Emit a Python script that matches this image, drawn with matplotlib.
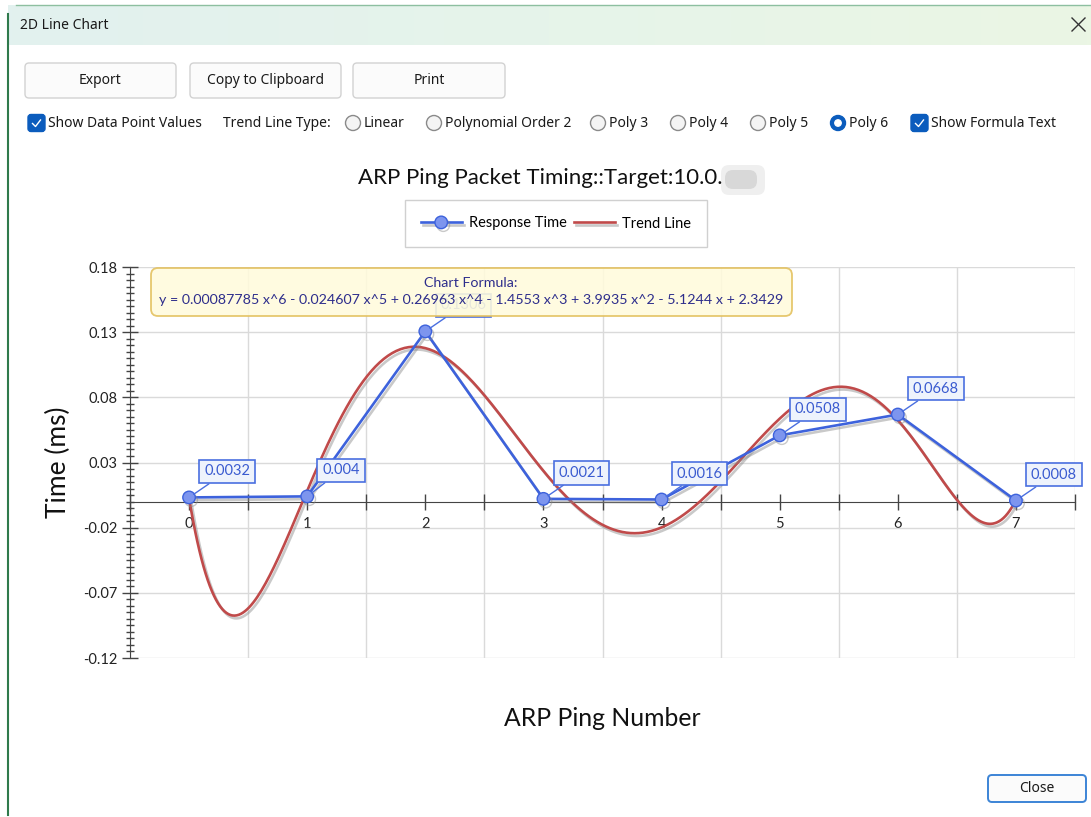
import numpy as np
import matplotlib
matplotlib.use("Agg")
import matplotlib.pyplot as plt
import matplotlib.patheffects as pe
from matplotlib.patches import FancyBboxPatch, Circle

# data
ping = [0, 1, 2, 3, 4, 5, 6, 7]
resp = [0.0032, 0.004, 0.1306, 0.0021, 0.0016, 0.0508, 0.0668, 0.0008]
y_ticks = [0.18, 0.13, 0.08, 0.03, -0.02, -0.07, -0.12]
formula = "y = 0.00087785 x^6 - 0.024607 x^5 + 0.26963 x^4 - 1.4553 x^3 + 3.9935 x^2 - 5.1244 x + 2.3429"
trend_order = 6

plt.rcParams['font.family'] = ['Lato', 'DejaVu Sans']
plt.rcParams['axes.unicode_minus'] = False

W, H = 1091, 817
fig = plt.figure(figsize=(W / 100, H / 100), dpi=100)
fig.patch.set_facecolor('white')

BLUE = '#3d62dc'
RED = '#c04a4a'
UI = 'Noto Sans'
UI_SIZE = 10

# main chart area (pixels: x 130..1075, y 267..658)
ax = fig.add_axes([130 / W, 1 - 658 / H, 945 / W, 391 / H])
ax.set_xlim(-0.5, 7.5)
ax.set_ylim(-0.12, 0.18)
for s in ['top', 'right']:
    ax.spines[s].set_visible(False)
ax.spines['bottom'].set_position(('data', 0))
ax.spines['bottom'].set_color('#444444')
ax.spines['left'].set_color('#444444')

ax.set_xticks(ping)
ax.set_xticks(np.arange(-0.5, 7.6, 0.5), minor=True)
ax.set_yticks(y_ticks)
ax.set_yticklabels(['{:.2f}'.format(v) for v in y_ticks])
ax.set_yticks(np.arange(-0.12, 0.1801, 0.005), minor=True)
ax.tick_params(axis='x', which='both', direction='inout', length=12, width=1,
               color='#444444', labelsize=10.5, pad=5, labelcolor='#222222')
ax.tick_params(axis='y', which='major', direction='inout', length=11.5, width=1,
               color='#444444', labelsize=10.5, pad=3, labelcolor='#222222')
ax.tick_params(axis='y', which='minor', direction='inout', length=6, width=1,
               color='#444444')
ax.grid(axis='y', which='major', color='#dadada', lw=1)
ax.grid(axis='x', which='minor', color='#dadada', lw=1)
ax.set_axisbelow(True)

# trend line (polynomial fit of the data, formula x = ping + 1)
coef = np.polyfit(np.array(ping) + 1, resp, trend_order)
xs = np.linspace(ping[0], ping[-1], 400)
shadow = [pe.SimpleLineShadow(offset=(1.5, -2), shadow_color='#888888', alpha=0.45), pe.Normal()]
ax.plot(xs, np.polyval(coef, xs + 1), color=RED, lw=1.9, label='Trend Line',
        path_effects=shadow, zorder=3)
ax.plot(ping, resp, color=BLUE, lw=1.9, marker='o', ms=9, mfc='#7d95ee', mec=BLUE,
        mew=1, label='Response Time', path_effects=shadow, zorder=4)

# data point values
for x, v in zip(ping, resp):
    ax.annotate(str(v), xy=(x, v), xytext=(15, 19), textcoords='offset pixels',
                ha='left', va='bottom', fontsize=10.5, color='#3a5bd0',
                bbox=dict(boxstyle='square,pad=0.33', fc='#eef3fc', ec='#4a6fe0', lw=1.2),
                arrowprops=dict(arrowstyle='-', color='#4a6fe0', lw=1, shrinkA=0, shrinkB=4),
                zorder=5)

ax.set_xlabel('ARP Ping Number', fontsize=17.8, color='#111111')
ax.xaxis.set_label_coords(0.5, -0.126)
ax.set_ylabel('Time (ms)', fontsize=19, color='#111111')
ax.yaxis.set_label_coords(-0.062, 0.5)

h, l = ax.get_legend_handles_labels()
leg = ax.legend(h[::-1], l[::-1], loc='center', ncol=2, fontsize=10.5,
                bbox_to_anchor=(556 / W, 1 - 223.5 / H), bbox_transform=fig.transFigure,
                handlelength=2.8, columnspacing=0.5, handletextpad=0.5, borderpad=1.1,
                fancybox=False, edgecolor='#d0d0d0', framealpha=1)
leg.get_frame().set_linewidth(1)

# overlay in pixel coordinates for the dialog parts
ui = fig.add_axes([0, 0, 1, 1], zorder=10)
ui.set_xlim(0, W)
ui.set_ylim(H, 0)
ui.axis('off')
ui.patch.set_alpha(0)

# title bar
grad = np.linspace(0, 1, 256).reshape(1, -1)
cmap = matplotlib.colors.LinearSegmentedColormap.from_list('tb', ['#e2f1ef', '#e6f4ea', '#ebf6e4'])
ui.imshow(grad, cmap=cmap, extent=(8, W, 45, 5), aspect='auto', zorder=0)
ui.plot([8, 8], [14, 815], color='#2f7a4c', lw=1.5)
ui.plot([16, W], [5, 5], color='#8dbfa0', lw=1)
ui.text(20, 25, '2D Line Chart', fontsize=UI_SIZE, family=UI, va='center', color='#1a1a1a')
ui.plot([1072, 1085], [18, 31], color='#333333', lw=1)
ui.plot([1072, 1085], [31, 18], color='#333333', lw=1)


def button(x0, x1, y0, y1, label, ec='#d2d2d2', lw=1):
    ui.add_patch(FancyBboxPatch((x0, y0), x1 - x0, y1 - y0,
                                boxstyle='round,pad=0,rounding_size=4',
                                fc='#fbfbfb', ec=ec, lw=lw))
    ui.text((x0 + x1) / 2, (y0 + y1) / 2, label, fontsize=UI_SIZE, family=UI,
            ha='center', va='center', color='#1a1a1a')


def checkbox(x, y, label):
    ui.add_patch(FancyBboxPatch((x, y - 8.5), 17, 17, boxstyle='round,pad=0,rounding_size=3',
                                fc='#0b5cbd', ec='#0b5cbd', lw=1))
    ui.plot([x + 4.5, x + 7.5, x + 12.5], [y + 0.5, y + 3.5, y - 3], color='white', lw=1)
    ui.text(x + 20, y, label, fontsize=UI_SIZE, family=UI, va='center', color='#1a1a1a')


def radio(x, y, label, on=False):
    if on:
        ui.add_patch(Circle((x, y), 7.5, fc='#0b5cbd', ec='#0b5cbd'))
        ui.add_patch(Circle((x, y), 3.2, fc='white', ec='white'))
    else:
        ui.add_patch(Circle((x, y), 7.5, fc='#f4f4f4', ec='#8a8a8a', lw=1))
    ui.text(x + 11, y, label, fontsize=UI_SIZE, family=UI, va='center', color='#1a1a1a')


button(25, 176, 63, 98, 'Export')
button(190, 341, 63, 98, 'Copy to Clipboard')
button(353, 505, 63, 98, 'Print')
button(988, 1086, 775, 802, 'Close', ec='#3c84d6', lw=1.4)

checkbox(28, 123, 'Show Data Point Values')
ui.text(223, 123, 'Trend Line Type:', fontsize=UI_SIZE, family=UI, va='center', color='#1a1a1a')
radio(353, 123, 'Linear')
radio(434, 123, 'Polynomial Order 2')
radio(598, 123, 'Poly 3')
radio(678, 123, 'Poly 4')
radio(758, 123, 'Poly 5')
radio(838, 123, 'Poly 6', on=True)
checkbox(911, 123, 'Show Formula Text')

# chart title with blurred tail
ui.text(358, 178, 'ARP Ping Packet Timing::Target:10.0.', fontsize=16,
        va='center', ha='left', color='#111111')
ui.add_patch(FancyBboxPatch((721, 165), 44, 30, boxstyle='round,pad=0,rounding_size=8',
                            fc='#ececec', ec='none', alpha=0.8))
ui.add_patch(FancyBboxPatch((725, 170), 32, 19, boxstyle='round,pad=0,rounding_size=8',
                            fc='#cfcfcf', ec='none', alpha=0.7))

# formula box
ui.add_patch(FancyBboxPatch((151, 268), 641, 48, boxstyle='round,pad=0,rounding_size=7',
                            fc='#fffbdc', ec='#e3c05c', lw=1.3, alpha=0.88))
ui.text(471, 283, 'Chart Formula:', fontsize=10.3, ha='center', va='center', color='#2e2e8c')
ui.text(471, 300, formula, fontsize=10.3, ha='center', va='center', color='#2e2e8c')

fig.savefig('out.png', dpi=100)
